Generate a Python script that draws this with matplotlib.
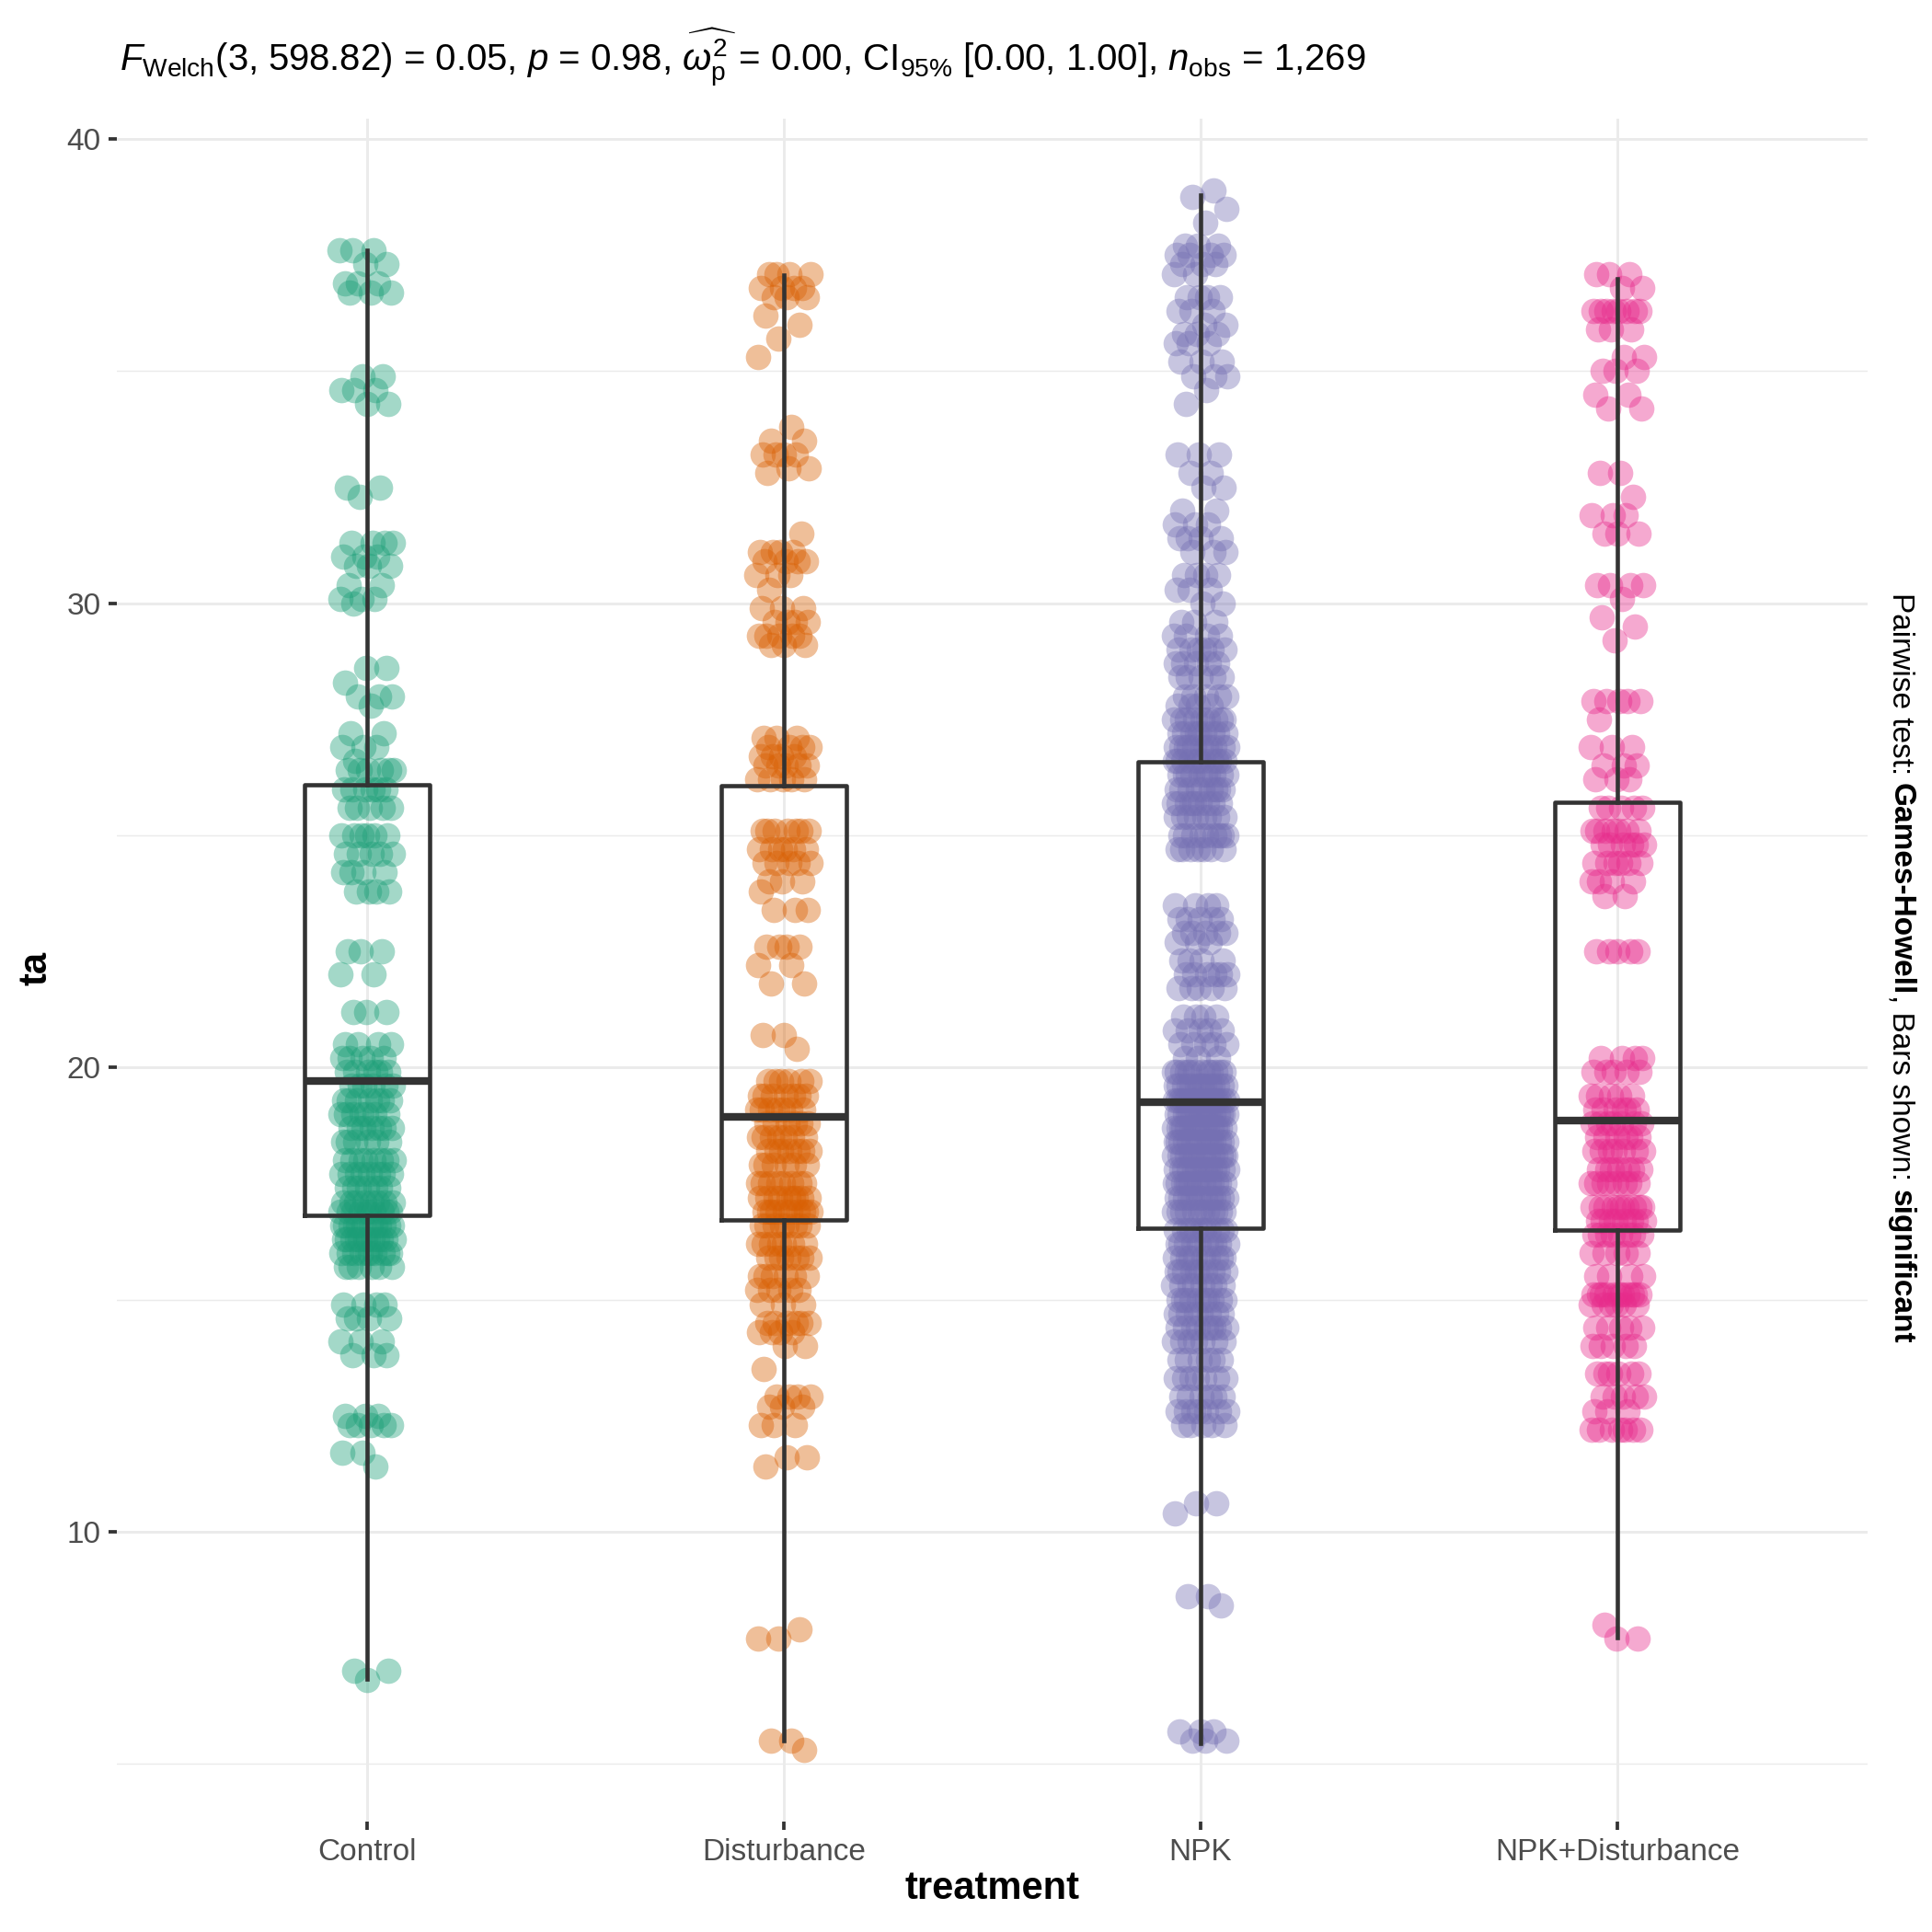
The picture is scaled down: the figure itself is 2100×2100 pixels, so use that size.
import numpy as np
import matplotlib
matplotlib.use("Agg")
import matplotlib.pyplot as plt

plt.rcParams['font.family'] = ['Liberation Sans', 'DejaVu Sans']
plt.rcParams['mathtext.fontset'] = 'custom'
plt.rcParams['mathtext.rm'] = 'Liberation Sans'
plt.rcParams['mathtext.it'] = 'Liberation Sans:italic'
plt.rcParams['mathtext.bf'] = 'Liberation Sans:bold'

treatments = ["Control", "Disturbance", "NPK", "NPK+Disturbance"]
colors = ["#1B9E77", "#D95F02", "#7570B3", "#E7298A"]

# observed ta values (value levels and how many points sit on each)
control_vals = [37.6, 37.3, 36.9, 36.7, 34.9, 34.6, 34.3, 32.5, 32.3, 31.3, 31.0, 30.8, 30.4, 30.1, 30.0,
                28.6, 28.3, 28.0, 27.8, 27.2, 26.9, 26.6, 26.4, 26.0, 25.6, 25.0, 24.6, 24.2, 23.8, 22.5, 22.0,
                21.2, 20.5, 20.2, 19.9, 19.6, 19.3, 19.0, 18.7, 18.4, 18.0, 17.7, 17.4, 17.1, 16.9, 16.6, 16.3,
                16.0, 15.7, 14.9, 14.6, 14.1, 13.8, 12.5, 12.3, 11.7, 11.4, 7.0, 6.8]
control_counts = [3, 2, 3, 3, 2, 3, 2, 2, 1, 4, 3, 3, 2, 3, 1,
                  2, 1, 3, 1, 2, 3, 1, 6, 6, 5, 6, 5, 4, 4, 3, 2,
                  3, 4, 5, 6, 6, 7, 7, 7, 6, 8, 8, 7, 8, 10, 12, 12,
                  10, 6, 4, 4, 3, 3, 3, 5, 2, 1, 2, 1]

disturbance_vals = [37.1, 36.8, 36.6, 36.2, 36.0, 35.7, 35.3, 33.8, 33.5, 33.2, 32.9, 32.8, 31.5, 31.1, 30.9,
                    30.6, 30.3, 29.9, 29.6, 29.3, 29.1, 27.1, 26.9, 26.7, 26.5, 26.2, 25.1, 24.7, 24.4, 24.0,
                    23.8, 23.4, 22.6, 22.2, 21.8, 20.7, 20.4, 19.7, 19.4, 19.1, 18.8, 18.5, 18.2, 17.9, 17.5,
                    17.2, 16.9, 16.6, 16.2, 15.9, 15.5, 15.2, 14.9, 14.5, 14.3, 14.0, 13.5, 12.9, 12.7, 12.3,
                    11.6, 11.4, 7.9, 7.7, 5.5, 5.3]
disturbance_counts = [4, 4, 3, 1, 1, 1, 1, 1, 2, 4, 2, 1, 1, 4, 4,
                      3, 1, 3, 4, 5, 3, 3, 4, 4, 5, 5, 7, 6, 5, 3,
                      1, 3, 4, 2, 2, 2, 1, 6, 7, 7, 6, 7, 7, 6, 8,
                      9, 10, 8, 7, 7, 6, 5, 3, 6, 4, 2, 1, 4, 3, 3,
                      2, 1, 1, 2, 2, 1]

npk_vals = [38.9, 38.75, 38.5, 38.2, 37.7, 37.5, 37.3, 37.1, 36.6, 36.3, 36.0, 35.8, 35.6, 35.2, 34.9,
            34.6, 34.3, 33.2, 32.8, 32.5, 32.0, 31.7, 31.4, 31.1, 30.6, 30.3, 30.0, 29.6, 29.3, 29.0,
            28.7, 28.4, 28.0, 27.8, 27.5, 27.2, 26.9, 26.6, 26.3, 26.0, 25.7, 25.4, 25.0, 24.7, 23.5,
            23.2, 22.9, 22.7, 22.3, 22.0, 21.7, 21.1, 20.8, 20.5, 20.2, 19.9, 19.6, 19.3, 19.0, 18.7,
            18.4, 18.1, 17.8, 17.5, 17.2, 16.9, 16.5, 16.2, 15.9, 15.6, 15.3, 15.0, 14.7, 14.4, 14.1,
            13.7, 13.3, 12.9, 12.6, 12.3, 10.6, 10.4, 8.6, 8.4, 5.7, 5.5]
npk_counts = [1, 1, 1, 1, 3, 4, 3, 2, 4, 3, 2, 3, 3, 3, 3,
              1, 1, 3, 2, 2, 2, 3, 4, 3, 4, 3, 2, 3, 4, 6,
              5, 5, 5, 4, 9, 9, 11, 11, 10, 9, 9, 8, 9, 7, 4,
              5, 5, 3, 4, 6, 5, 4, 5, 5, 3, 12, 14, 17, 17, 16,
              15, 15, 14, 14, 13, 12, 11, 10, 10, 10, 8, 10, 8, 9, 7,
              6, 7, 6, 7, 5, 2, 1, 2, 1, 3, 3]

npkdist_vals = [37.1, 36.8, 36.3, 35.9, 35.3, 35.0, 34.5, 34.2, 32.8, 32.3, 31.9, 31.5, 30.4, 30.1, 29.7,
                29.5, 29.2, 27.9, 27.5, 26.9, 26.5, 26.2, 25.6, 25.1, 24.8, 24.4, 24.0, 23.7, 22.5, 20.2,
                19.9, 19.4, 19.1, 18.8, 18.5, 18.2, 17.8, 17.5, 17.0, 16.7, 16.4, 16.0, 15.5, 15.1, 14.9,
                14.4, 14.0, 13.4, 12.9, 12.6, 12.2, 8.0, 7.7]
npkdist_counts = [3, 2, 8, 3, 2, 3, 2, 2, 2, 1, 3, 3, 4, 1, 1,
                  1, 1, 5, 1, 3, 3, 3, 5, 7, 6, 6, 4, 2, 5, 4,
                  5, 5, 6, 7, 6, 7, 7, 8, 10, 8, 8, 5, 4, 11, 6,
                  5, 5, 6, 5, 3, 7, 1, 2]

# box statistics as drawn
box_q1 = [16.82, 16.71, 16.54, 16.50]
box_med = [19.70, 18.94, 19.26, 18.86]
box_q3 = [26.09, 26.08, 26.58, 25.71]
whisk_lo = [6.83, 5.50, 5.44, 7.71]
whisk_hi = [37.61, 37.08, 38.79, 37.00]

groups = [(control_vals, control_counts), (disturbance_vals, disturbance_counts),
          (npk_vals, npk_counts), (npkdist_vals, npkdist_counts)]

fig = plt.figure(figsize=(7, 7), dpi=300)
ax = fig.add_axes([0.0605, 0.0571, 0.906, 0.8817])

for g, (vals, cnts) in enumerate(groups):
    y = np.repeat(vals, cnts)
    n = len(y)
    jit = 0.065 * (2 * ((np.arange(n) * 0.618034 + 0.37 * g) % 1) - 1)
    ax.scatter(g + 1 + jit, y, s=44, c=colors[g], alpha=0.4, linewidths=0, zorder=2)

stats = []
for i in range(4):
    stats.append(dict(med=box_med[i], q1=box_q1[i], q3=box_q3[i],
                      whislo=whisk_lo[i], whishi=whisk_hi[i], fliers=[]))
ax.bxp(stats, positions=[1, 2, 3, 4], widths=0.3, showfliers=False, showcaps=False,
       boxprops=dict(color='#333333', linewidth=1.1),
       medianprops=dict(color='#333333', linewidth=2.0),
       whiskerprops=dict(color='#333333', linewidth=1.1),
       zorder=3)

ax.set_xlim(0.4, 4.6)
ax.set_ylim(3.75, 40.45)
ax.set_xticks([1, 2, 3, 4])
ax.set_xticklabels(treatments)
ax.set_yticks([10, 20, 30, 40])
ax.set_yticks([5, 15, 25, 35], minor=True)
ax.set_axisbelow(True)
ax.grid(which='major', color='#EBEBEB', linewidth=0.7)
ax.grid(which='minor', axis='y', color='#EBEBEB', linewidth=0.35)
ax.tick_params(which='major', length=2.2, width=0.9, color='#333333',
               labelcolor='#4D4D4D', labelsize=8, pad=2)
ax.tick_params(which='minor', length=0)
for sp in ax.spines.values():
    sp.set_visible(False)

fig.text(0.5134, 0.0224, "treatment", fontsize=10, fontweight='bold', ha='center', va='center')
fig.text(0.019, 0.499, "ta", fontsize=10, fontweight='bold', ha='center', va='center', rotation=90)

title = (r"$\mathit{F}_{\mathrm{Welch}}$(3, 598.82) = 0.05, $\mathit{p}$ = 0.98, "
         r"$\widehat{\omega_{\mathrm{p}}^{2}}$ = 0.00, CI$_{95\%}$ [0.00, 1.00], "
         r"$\mathit{n}_{\mathrm{obs}}$ = 1,269")
fig.text(0.062, 0.97, title, fontsize=9.65, ha='left', va='center')

# right caption, mixed weights, stacked top to bottom
pieces = [("Pairwise test: ", 'normal'), ("Games-Howell", 'bold'),
          (", Bars shown: ", 'normal'), ("significant", 'bold')]
renderer = fig.canvas.get_renderer()
H = fig.get_figheight() * fig.dpi
texts = []
for s, w in pieces:
    t = fig.text(0.9838, 0.5, s, fontsize=8, fontweight=w, rotation=-90,
                 ha='center', va='top')
    texts.append(t)
heights = [t.get_window_extent(renderer).height for t in texts]
cur = 0.499 * H + sum(heights) / 2
for t, h in zip(texts, heights):
    t.set_y(cur / H)
    cur -= h

fig.savefig("out.png", dpi=300, facecolor='white')
